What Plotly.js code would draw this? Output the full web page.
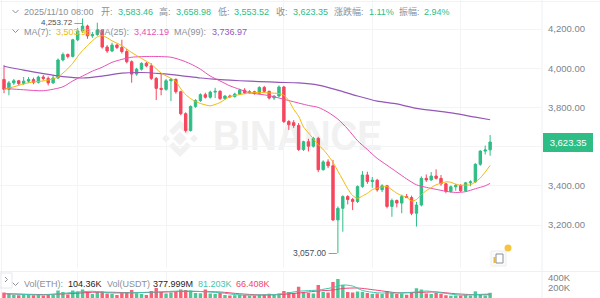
<!DOCTYPE html>
<html><head><meta charset="utf-8">
<script src="https://cdn.plot.ly/plotly-3.0.1.min.js"></script>
<style>html,body{margin:0;padding:0;background:#fff;overflow:hidden}#chart{width:600px;height:298px}</style>
</head><body><div id="chart"></div>
<script>
// ---- DATA (ETH/USDT 4h candles) ----
const firstCandleUTC8 = [2025, 10, 24, 20, 0]; // 2025/10/24 20:00, 4h candles
const candleHours = 4;
const opens  = [3943,3892,3925,3936,3922,3934,3942,3928,3955,3948,3925,3950,4042,4070,4060,4145,4190,4215,4165,4172,
                4195,4108,4088,4118,4106,4085,4033,3970,3995,4025,4012,3948,3897,3892,3936,3943,3880,3768,3682,3805,
                3835,3865,3852,3878,3882,3845,3858,3855,3868,3888,3874,3880,3872,3902,3882,3848,3858,3904,3728,3722,
                3708,3585,3625,3602,3642,3482,3522,3502,3226,3285,3345,3330,3320,3396,3455,3422,3428,3380,3400,3295,
                3325,3312,3345,3340,3260,3302,3438,3430,3450,3438,3410,3372,3395,3402,3375,3415,3420,3510,3577,3583.46];
const highs  = [4016,3935,3945,3940,3955,3955,3952,3962,3965,3958,3965,4050,4080,4075,4150,4205,4253.72,4222,4185,4232,
                4200,4118,4130,4125,4145,4098,4040,4002,4030,4032,4025,3955,3970,3945,3950,3948,3885,3775,3810,3842,
                3872,3875,3885,3900,3888,3862,3865,3875,3895,3898,3888,3885,3908,3910,3885,3862,3912,3910,3735,3735,
                3720,3630,3640,3650,3650,3530,3535,3532,3295,3352,3352,3338,3402,3475,3472,3445,3436,3408,3405,3335,
                3330,3355,3358,3350,3318,3448,3458,3470,3484,3455,3415,3402,3410,3408,3420,3428,3515,3582,3605,3658.98];
const lows   = [3872,3862,3915,3912,3915,3925,3918,3922,3938,3912,3920,3945,4035,4050,4055,4138,4180,4150,4155,4165,
                4100,4078,4082,4098,4075,4025,3926,3962,3988,4005,3940,3838,3862,3885,3832,3870,3760,3672,3677,3798,
                3828,3845,3845,3848,3838,3840,3848,3850,3865,3868,3870,3865,3868,3875,3840,3838,3852,3720,3685,3695,
                3578,3578,3575,3595,3470,3478,3490,3220,3057,3166,3305,3276,3312,3390,3410,3390,3370,3368,3285,3242,
                3290,3260,3338,3250,3192,3295,3420,3425,3432,3400,3362,3365,3375,3368,3370,3398,3415,3502,3560,3553.52];
const closes = [3892,3925,3936,3922,3934,3942,3928,3955,3948,3925,3950,4042,4070,4060,4145,4190,4215,4165,4172,4195,
                4108,4088,4118,4106,4085,4033,3970,3995,4025,4012,3948,3897,3892,3936,3943,3880,3768,3682,3805,3835,
                3865,3852,3878,3882,3845,3858,3855,3868,3888,3874,3880,3872,3902,3882,3848,3858,3904,3728,3712,3708,
                3585,3625,3602,3642,3482,3522,3502,3226,3285,3345,3330,3320,3396,3455,3422,3428,3380,3400,3295,3325,
                3312,3345,3340,3260,3302,3438,3430,3450,3438,3410,3372,3395,3402,3375,3415,3420,3510,3577,3583,3623.35];
// volume in thousands of ETH
const volumes = [110,80,60,55,65,60,55,75,50,65,60,150,120,70,150,130,170,120,80,120,
                 130,90,80,60,115,120,160,95,80,60,140,200,120,90,110,120,170,160,150,100,
                 95,170,90,80,100,60,50,55,70,60,50,50,65,70,85,60,90,140,120,100,
                 225,110,100,90,260,120,110,320,380,260,120,110,130,120,100,80,90,80,140,110,
                 80,90,65,120,195,170,90,80,100,85,55,45,50,48,60,50,133,70,49,104.36];
const volUsdtLastM = 377.999;
// moving-average lines, read at sample candles (candle index -> value)
const ma7Idx  = [0,2,4,6,8,10,11,12,13,14,15,16,17,18,19,20,21,22,24,26,28,30,32,34,35,36,37,38,39,40,42,43,44,46,48,50,52,54,56,
                 57,58,59,60,61,62,63,64,65,66,67,68,69,70,71,72,73,74,75,76,77,78,79,80,81,82,83,84,85,86,87,88,89,90,91,92,93,94,95,96,97,98,99];
const ma7Vals = [3892,3905,3920,3930,3935,3945,3955,3975,3998,4025,4060,4090,4115,4140,4160,4166,4155,4140,4115,4080,4050,4020,3975,3948,3932,3895,3865,3845,3830,3820,3808,3815,3825,3855,3865,3874,3876,3874,3870,
                 3862,3835,3790,3755,3700,3670,3640,3610,3585,3555,3520,3475,3430,3385,3350,3336,3348,3362,3380,3388,3394,3396,3380,3362,3350,3342,3322,3330,3355,3375,3390,3405,3413,3420,3418,3408,3403,3404,3405,3420,3440,3470,3503.98];
const ma25Idx  = [0,4,8,12,14,16,18,20,22,24,26,30,34,36,38,40,42,44,46,48,50,54,58,62,64,66,68,70,72,74,76,78,80,82,84,86,88,90,92,94,96,98,99];
const ma25Vals = [3897,3890,3885,3905,3935,3960,3985,4005,4030,4045,4056,4060,4056,4042,4022,3995,3960,3935,3910,3892,3875,3860,3835,3810,3800,3775,3740,3690,3630,3585,3540,3505,3470,3435,3405,3392,3382,3372,3366,3370,3385,3400,3412.19];
const ma99Idx  = [0,4,8,12,16,20,24,28,32,36,40,44,48,52,56,60,64,68,72,76,80,84,88,92,96,99];
const ma99Vals = [4010,3990,3972,3957,3950,3960,3975,3978,3972,3962,3950,3942,3936,3932,3928,3925,3914,3888,3858,3832,3818,3795,3782,3768,3750,3736.97];
const volMa5Idx  = [0,8,14,18,22,26,31,36,40,44,48,52,56,60,64,67,69,71,73,76,80,84,86,89,93,96,99];
const volMa5Vals = [90,62,110,135,100,105,120,140,130,105,60,60,75,135,160,210,260,240,150,104,100,120,140,105,57,68,81.203];
const volMa10Idx  = [0,8,14,18,22,26,31,36,40,44,48,52,56,60,64,67,69,72,76,80,84,88,92,96,99];
const volMa10Vals = [85,70,90,115,115,105,115,130,130,120,85,62,68,100,140,160,190,200,155,105,110,120,85,65,66.408];
const yTicks = [3200,3400,3600,3800,4000,4200];
const volTicks = [200,400];
const volTickText = ['200K','400K'];

// ---- helpers ----
const GREEN='#2EBD85', RED='#F6465D', GREY='#8A9099', AXG='#7D838C', DARK='#1E2329';
const C7='#F0B90B', C25='#E84FB5', C99='#9457B8', CV5='#3FC6AE', CV10='#EE4471';
const FONT='"Liberation Sans", Arial, "Noto Sans CJK SC", sans-serif';
const W=600,H=298,PW=542;
const pad=n=>String(n).padStart(2,'0');
const t0=Date.UTC(firstCandleUTC8[0],firstCandleUTC8[1]-1,firstCandleUTC8[2],firstCandleUTC8[3],firstCandleUTC8[4]);
function tstr(ms){const d=new Date(ms);return d.getUTCFullYear()+'-'+pad(d.getUTCMonth()+1)+'-'+pad(d.getUTCDate())+' '+pad(d.getUTCHours())+':'+pad(d.getUTCMinutes());}
const HOUR=3600000;
const times=opens.map((_,i)=>tstr(t0+i*candleHours*HOUR));
const fmt=v=>v.toLocaleString('en-US',{minimumFractionDigits:2,maximumFractionDigits:2});
const px=p=>p/PW, py=p=>1-p/H;
const L=closes.length-1;

// ---- traces ----
const traces=[];
traces.push({type:'candlestick',x:times,open:opens,high:highs,low:lows,close:closes,
  increasing:{line:{color:GREEN,width:1},fillcolor:GREEN},decreasing:{line:{color:RED,width:1},fillcolor:RED},
  whiskerwidth:0,hoverinfo:'skip',xaxis:'x',yaxis:'y'});
function line(idx,vals,color,yaxis,w){return {type:'scatter',mode:'lines',x:idx.map(i=>times[i]),y:vals,
  line:{color:color,width:w||1,shape:'spline',smoothing:0.7},hoverinfo:'skip',xaxis:'x',yaxis:yaxis};}
traces.push(line(ma99Idx,ma99Vals,C99,'y',1.2));
traces.push(line(ma25Idx,ma25Vals,C25,'y',1));
traces.push(line(ma7Idx,ma7Vals,C7,'y',1));
traces.push({type:'bar',x:times,y:volumes,marker:{color:closes.map((c,i)=>c>=opens[i]?GREEN:RED),opacity:0.85},
  hoverinfo:'skip',xaxis:'x',yaxis:'y2'});
traces.push(line(volMa10Idx,volMa10Vals,CV10,'y2',1));
traces.push(line(volMa5Idx,volMa5Vals,CV5,'y2',1));

// ---- annotations ----
const ann=[];
function txt(x,y,text,color,size,anchor){ann.push({xref:'paper',yref:'paper',x:px(x),y:py(y),xanchor:anchor||'left',yanchor:'middle',
  text:text,showarrow:false,borderpad:0,font:{family:FONT,size:size||9,color:color}});}
const d99=times[L].replace(/-/g,'/');
const chg=(closes[L]-opens[L])/opens[L]*100, amp=(highs[L]-lows[L])/opens[L]*100;
txt(23,12,d99,GREY);
txt(100,12,'开:',GREY); txt(117,12,fmt(opens[L]),GREEN);
txt(158,12,'高:',GREY); txt(175,12,fmt(highs[L]),GREEN);
txt(217,12,'低:',GREY); txt(233,12,fmt(lows[L]),GREEN);
txt(275,12,'收:',GREY); txt(292,12,fmt(closes[L]),GREEN);
txt(333,12,'涨跌幅:',GREY); txt(368,12,chg.toFixed(2)+'%',GREEN);
txt(398,12,'振幅:',GREY); txt(423,12,amp.toFixed(2)+'%',GREEN);
txt(23,31.5,'MA(7):',GREY); txt(55,31.5,fmt(ma7Vals[ma7Vals.length-1]),C7);
txt(96,31.5,'MA(25):',GREY); txt(133,31.5,fmt(ma25Vals[ma25Vals.length-1]),C25);
txt(173,31.5,'MA(99):',GREY); txt(211,31.5,fmt(ma99Vals[ma99Vals.length-1]),C99);
txt(23,284,'Vol(ETH):',GREY); txt(67,284,volumes[L].toFixed(2)+'K',DARK);
txt(106,284,'Vol(USDT)',GREY); txt(152,284,volUsdtLastM.toFixed(3)+'M',DARK);
txt(197,284,volMa5Vals[volMa5Vals.length-1].toFixed(3)+'K',CV5);
txt(235,284,volMa10Vals[volMa10Vals.length-1].toFixed(3)+'K',CV10);
// high / low markers
const hiI=highs.indexOf(Math.max(...highs)), loI=lows.indexOf(Math.min(...lows));
ann.push({x:times[hiI],y:highs[hiI],xref:'x',yref:'y',xanchor:'right',yanchor:'middle',yshift:-4.5,showarrow:false,borderpad:0,
  text:fmt(highs[hiI])+' —',font:{family:FONT,size:8,color:'#474D57'}});
ann.push({x:times[loI],y:lows[loI],xref:'x',yref:'y',xanchor:'right',yanchor:'middle',showarrow:false,borderpad:0,
  text:fmt(lows[loI])+' —',font:{family:FONT,size:8.5,color:'#474D57'}});
// last price tag (covers the price-axis label underneath, as in the original)
ann.push({xref:'paper',yref:'y',x:1,xshift:1,y:closes[L],xanchor:'left',yanchor:'middle',showarrow:false,
  text:'&nbsp;'+fmt(closes[L])+'&nbsp;',bgcolor:GREEN,bordercolor:GREEN,borderpad:3,font:{family:FONT,size:9.5,color:'#fff'}});

// ---- shapes (frame, separators, small icons) ----
const shp=[];
const ln=(x0,y0,x1,y1,c,w)=>shp.push({type:'line',xref:'paper',yref:'paper',x0:px(x0),y0:py(y0),x1:px(x1),y1:py(y1),line:{color:c,width:w||1},layer:'below'});
ln(542,0,542,298,'#EEF0F2');
ln(1.5,0,1.5,298,'#F2F3F5');
ln(0,1.5,600,1.5,'#F2F3F5');
ln(0,271.5,600,271.5,'#EEF0F2');
function path(pts,c){shp.push({type:'path',xref:'paper',yref:'paper',path:'M'+pts.map(p=>px(p[0])+','+py(p[1])).join(' L'),line:{color:c,width:1}});}
path([[12.5,10],[15.5,13],[18.5,10]],GREY);
path([[12.5,29.5],[15.5,32.5],[18.5,29.5]],GREY);
path([[12.5,282.5],[15.5,285.5],[18.5,282.5]],GREY);
path([[5,277],[7.5,279.5],[5,282]],GREY);
shp.push({type:'rect',xref:'paper',yref:'paper',x0:px(0),x1:px(12),y0:py(273),y1:py(288),line:{color:'#E6E8EA',width:1},fillcolor:'rgba(0,0,0,0)'});
// small tool icon
shp.push({type:'rect',xref:'paper',yref:'paper',x0:px(491),x1:px(506),y0:py(251),y1:py(266),line:{color:'#EDEEF0',width:1},fillcolor:'#FAFAFA'});
shp.push({type:'rect',xref:'paper',yref:'paper',x0:px(496),x1:px(503),y0:py(254),y1:py(263),line:{color:'#8A9099',width:1},fillcolor:'#FFFFFF'});
shp.push({type:'rect',xref:'paper',yref:'paper',x0:px(493.5),x1:px(496),y0:py(257),y1:py(263),line:{width:0},fillcolor:'#E8B84A'});
shp.push({type:'circle',xref:'paper',yref:'paper',x0:px(504.5),x1:px(511.5),y0:py(244.5),y1:py(251.5),line:{width:0},fillcolor:'#F5C542'});

// watermark as a background image
const wm="<svg xmlns='http://www.w3.org/2000/svg' width='230' height='45'><g fill='#F1F1F1'>"+
 "<polygon points='20,14.5 27,21.5 20,28.5 13,21.5'/><polygon points='6,17.5 10,21.5 6,25.5 2,21.5'/><polygon points='34,17.5 38,21.5 34,25.5 30,21.5'/>"+
 "<polygon points='20,3 31,14 27,18 20,11 13,18 9,14'/><polygon points='20,40 31,29 27,25 20,32 13,25 9,29'/>"+
 "<text x='53' y='33' font-family='Liberation Sans, Arial, sans-serif' font-weight='bold' font-size='42' textLength='169' lengthAdjust='spacingAndGlyphs'>BINANCE</text></g></svg>";

const end=tstr(t0+(109.57)*candleHours*HOUR), start=tstr(t0-0.815*candleHours*HOUR);
// the 3,600.00 label sits under the last-price tag in the original, so it is left blank (gridline kept)
const yTickText=yTicks.map(v=>Math.abs(v-closes[L])<40?'':fmt(v));
const layout={width:W,height:H,margin:{l:0,r:58,t:0,b:0,pad:0},paper_bgcolor:'#fff',plot_bgcolor:'#fff',showlegend:false,
  boxgap:0.3,bargap:0.3,dragmode:false,
  xaxis:{type:'date',range:[start,end],showgrid:true,gridcolor:'#F3F4F6',gridwidth:1,zeroline:false,showticklabels:false,ticks:'',
    tickvals:['2025-10-27 08:00','2025-10-30 08:00','2025-11-03 08:00','2025-11-06 08:00','2025-11-09 08:00'],
    rangeslider:{visible:false},anchor:'y',fixedrange:true,showline:false},
  yaxis:{domain:[1-268/H,1],range:[2980.6,4348],side:'right',tickvals:yTicks,ticktext:yTickText,showgrid:true,gridcolor:'#F3F4F6',
    zeroline:false,ticks:'',ticklabelstandoff:5,tickfont:{family:FONT,size:9.5,color:AXG},fixedrange:true,showline:false},
  yaxis2:{domain:[0,26/H],range:[0,520],side:'right',tickvals:volTicks,ticktext:volTickText,showgrid:false,zeroline:false,ticks:'',
    ticklabelstandoff:5,tickfont:{family:FONT,size:9.5,color:AXG},anchor:'x',fixedrange:true,showline:false},
  annotations:ann,shapes:shp,
  images:[{source:'data:image/svg+xml;charset=utf-8,'+encodeURIComponent(wm),xref:'paper',yref:'paper',x:px(160),y:py(117),
    sizex:230/PW,sizey:45/H,xanchor:'left',yanchor:'top',sizing:'stretch',layer:'below'}]
};
Plotly.newPlot('chart',traces,layout,{displayModeBar:false,staticPlot:true});
</script></body></html>
